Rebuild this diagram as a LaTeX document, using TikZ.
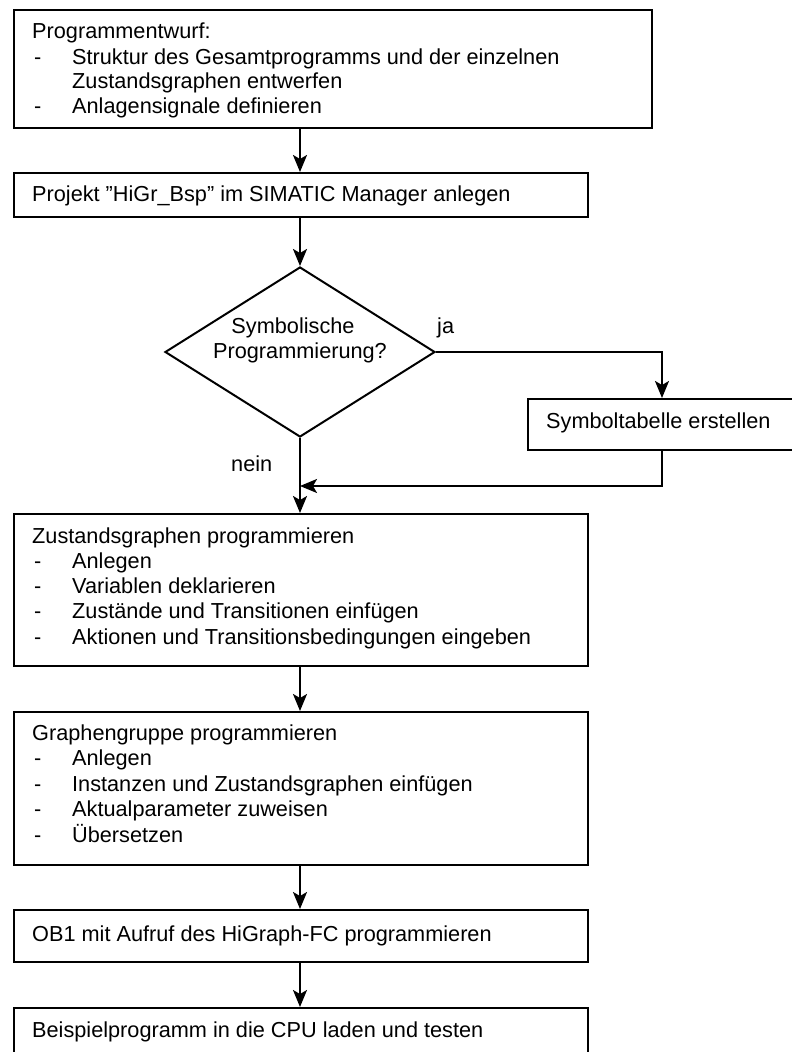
\documentclass[tikz,border=0pt]{standalone}
\usepackage{fontspec}
\setmainfont{Liberation Sans}
\usetikzlibrary{arrows.meta,shapes.geometric}
\begin{document}
\begin{tikzpicture}[x=1pt,y=-1pt,
  box/.style={draw, line width=2pt, rectangle, inner sep=0pt, anchor=north west},
  txt/.style={anchor=base west, inner sep=0pt, font=\fontsize{21.7}{25}\selectfont},
  ctxt/.style={anchor=base, inner sep=0pt, font=\fontsize{21.7}{25}\selectfont},
  flow/.style={line width=2pt, -{Stealth[length=17pt,width=14pt,inset=4pt]}}]
\useasboundingbox (0,0) rectangle (792,1052);
\fill[white] (0,0) rectangle (792,1052);
\clip (0,0) rectangle (792,1052);

% process boxes
\node[box, minimum width=638pt, minimum height=118pt] (b1) at (13,9) {};
\node[box, minimum width=574pt, minimum height=44pt]  (b2) at (13,172) {};
\node[draw, diamond, line width=2pt, inner sep=0pt,
      minimum width=270pt, minimum height=170pt] (dia) at (300,352) {};
\node[box, minimum width=280pt, minimum height=51pt]  (sym) at (527,398) {};
\node[box, minimum width=574pt, minimum height=152pt] (b3) at (13,513) {};
\node[box, minimum width=574pt, minimum height=153pt] (b4) at (13,711) {};
\node[box, minimum width=574pt, minimum height=52pt]  (b5) at (13,909) {};
\node[box, minimum width=574pt, minimum height=60pt]  (b6) at (13,1007) {};

% box texts
\node[txt] (t1a) at (32,38) {Programmentwurf:};
\node[txt] (d1b) at (34,64) {-};
\node[txt] (t1b) at (72,64) {Struktur des Gesamtprogramms und der einzelnen};
\node[txt] (t1c) at (72,88) {Zustandsgraphen entwerfen};
\node[txt] (d1d) at (34,113) {-};
\node[txt] (t1d) at (72,113) {Anlagensignale definieren};

\node[txt] (t2) at (32,201) {Projekt \symbol{34}HiGr\_Bsp” im SIMATIC Manager anlegen};

\node[ctxt] (q1) at (293,333) {Symbolische};
\node[ctxt] (q2) at (300,358) {Programmierung?};
\node[txt] (ja) at (437,333) {ja};
\node[txt] (nein) at (231,471) {nein};

\node[txt] (ts) at (546,428) {Symboltabelle erstellen};

\node[txt] (t3a) at (32,543) {Zustandsgraphen programmieren};
\node[txt] (d3b) at (34,568) {-};
\node[txt] (t3b) at (72,568) {Anlegen};
\node[txt] (d3c) at (34,593) {-};
\node[txt] (t3c) at (72,593) {Variablen deklarieren};
\node[txt] (d3d) at (34,618) {-};
\node[txt] (t3d) at (72,618) {Zustände und Transitionen einfügen};
\node[txt] (d3e) at (34,644) {-};
\node[txt] (t3e) at (72,644) {Aktionen und Transitionsbedingungen eingeben};

\node[txt] (t4a) at (32,740) {Graphengruppe programmieren};
\node[txt] (d4b) at (34,765) {-};
\node[txt] (t4b) at (72,765) {Anlegen};
\node[txt] (d4c) at (34,791) {-};
\node[txt] (t4c) at (72,791) {Instanzen und Zustandsgraphen einfügen};
\node[txt] (d4d) at (34,816) {-};
\node[txt] (t4d) at (72,816) {Aktualparameter zuweisen};
\node[txt] (d4e) at (34,842) {-};
\node[txt] (t4e) at (72,842) {Übersetzen};

\node[txt] (t5) at (32,941) {OB1 mit Aufruf des HiGraph-FC programmieren};
\node[txt] (t6) at (32,1037) {Beispielprogramm in die CPU laden und testen};

% connectors
\coordinate (join) at (300,486);
\draw[flow] (b1.south -| dia) -- (b2.north -| dia);
\draw[flow] (b2.south -| dia) -- (dia.north);
\draw[flow] (dia.east) -| ([xshift=135pt]sym.north west);
\draw[flow] ([xshift=135pt]sym.south west) |- (join);
\draw[flow] (dia.south) -- (b3.north -| dia);
\draw[flow] (b3.south -| dia) -- (b4.north -| dia);
\draw[flow] (b4.south -| dia) -- (b5.north -| dia);
\draw[flow] (b5.south -| dia) -- (b6.north -| dia);
\end{tikzpicture}
\end{document}
